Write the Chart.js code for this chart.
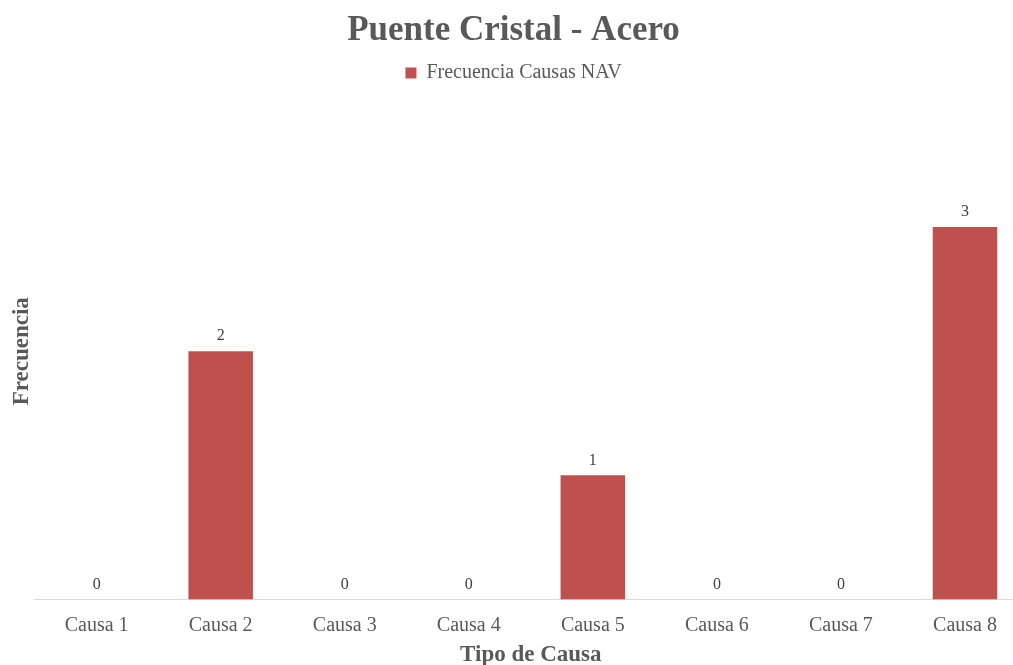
<!DOCTYPE html>
<html>
<head>
<meta charset="utf-8">
<script src="https://cdn.jsdelivr.net/npm/chart.js@4.4.0/dist/chart.umd.min.js"></script>
<style>
  html, body { margin: 0; padding: 0; background: #fff; overflow: hidden; }
  #wrap { width: 1030px; height: 665px; }
</style>
</head>
<body>
<div id="wrap"><canvas id="chart"></canvas></div>
<script>
// datos del gráfico
const categorias = ['Causa 1', 'Causa 2', 'Causa 3', 'Causa 4', 'Causa 5', 'Causa 6', 'Causa 7', 'Causa 8'];
const frecuencias = [0, 2, 0, 0, 1, 0, 0, 3];
const nombreSerie = 'Frecuencia Causas NAV';

const gris = '#595959';
const rojo = '#C0504D';
const fuente = "'Liberation Serif', 'Times New Roman', serif";

// etiquetas encima de cada barra
const etiquetas = {
    id: 'etiquetas',
    afterDatasetsDraw(chart) {
        const ctx = chart.ctx;
        const meta = chart.getDatasetMeta(0);
        ctx.save();
        ctx.font = '16px ' + fuente;
        ctx.fillStyle = '#404040';
        ctx.textAlign = 'center';
        ctx.textBaseline = 'bottom';
        meta.data.forEach((bar, i) => {
            ctx.fillText(String(frecuencias[i]), bar.x, bar.y - 7);
        });
        ctx.restore();
    }
};

// espacio extra bajo la leyenda
const espacioLeyenda = {
    id: 'espacioLeyenda',
    beforeInit(chart) {
        const fitOriginal = chart.legend.fit;
        chart.legend.fit = function() {
            fitOriginal.bind(chart.legend)();
            this.height += 10;
        };
    }
};

new Chart(document.getElementById('chart'), {
    type: 'bar',
    data: {
        labels: categorias,
        datasets: [{
            label: nombreSerie,
            data: frecuencias,
            backgroundColor: rojo,
            borderWidth: 0,
            barPercentage: 0.52,
            categoryPercentage: 1
        }]
    },
    options: {
        responsive: true,
        maintainAspectRatio: false,
        animation: false,
        layout: { padding: { left: 0, right: 3, top: 6, bottom: -4 } },
        plugins: {
            title: {
                display: true,
                text: 'Puente Cristal - Acero',
                color: gris,
                font: { family: fuente, size: 35, weight: 'bold' },
                padding: { top: 4, bottom: -4 }
            },
            legend: {
                display: true,
                labels: {
                    color: gris,
                    font: { family: fuente, size: 20 },
                    boxWidth: 11,
                    boxHeight: 11,
                    padding: 15
                }
            },
            tooltip: { enabled: false }
        },
        scales: {
            x: {
                grid: { display: false },
                border: { display: true, color: '#d9d9d9', width: 1 },
                ticks: { color: gris, font: { family: fuente, size: 20 }, padding: 6 },
                title: {
                    display: true,
                    text: 'Tipo de Causa',
                    color: gris,
                    font: { family: fuente, size: 23, weight: 'bold' },
                    padding: { top: -2, bottom: 0 }
                }
            },
            y: {
                min: 0,
                max: 4,
                grid: { display: false },
                border: { display: false },
                ticks: { display: false },
                title: {
                    display: true,
                    text: 'Frecuencia',
                    color: gris,
                    font: { family: fuente, size: 23, weight: 'bold' },
                    padding: { top: 8, bottom: -9 }
                }
            }
        }
    },
    plugins: [etiquetas, espacioLeyenda]
});
</script>
</body>
</html>
